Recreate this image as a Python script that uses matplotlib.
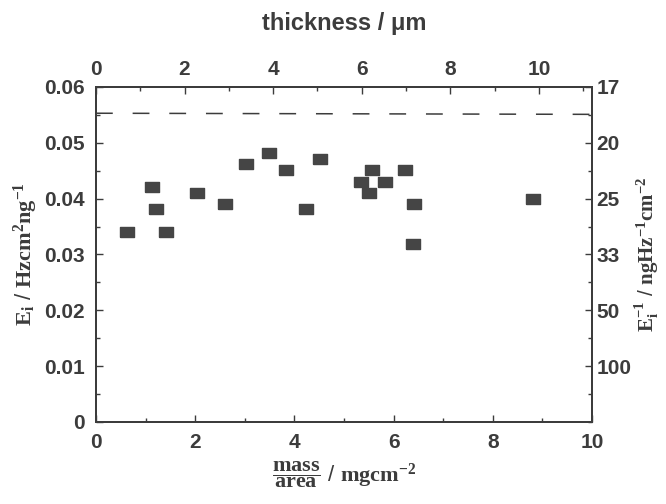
import numpy as np
import matplotlib
matplotlib.use("Agg")
import matplotlib.pyplot as plt
from matplotlib.ticker import MultipleLocator, FixedLocator

plt.rcParams["font.family"] = ["Liberation Sans", "DejaVu Sans"]
plt.rcParams["mathtext.fontset"] = "custom"
plt.rcParams["mathtext.rm"] = "Liberation Serif:bold"
plt.rcParams["mathtext.it"] = "Liberation Serif:italic:bold"
plt.rcParams["mathtext.bf"] = "Liberation Serif:bold"

INK = "#3c3c3c"

# data
mass_per_area = [0.62, 1.12, 1.22, 1.41, 2.03, 2.61, 3.02, 3.48, 3.84, 4.24,
                 4.52, 5.35, 5.50, 5.57, 5.83, 6.23, 6.42, 6.39, 8.81]
e_i = [0.0341, 0.0421, 0.0382, 0.0341, 0.0411, 0.0391, 0.0462, 0.0482, 0.0452, 0.0382,
       0.0471, 0.0430, 0.0411, 0.0451, 0.0430, 0.0451, 0.0390, 0.0319, 0.0399]

limit_x = [0, 10]
limit_y = [0.0553, 0.0551]

y_ticks = [0, 0.01, 0.02, 0.03, 0.04, 0.05, 0.06]
y_tick_labels = ["0", "0.01", "0.02", "0.03", "0.04", "0.05", "0.06"]
right_ticks = [0.01, 0.02, 0.03, 0.04, 0.05, 0.06]
right_tick_labels = ["100", "50", "33", "25", "20", "17"]
thickness_max = 11.2

fig = plt.figure(figsize=(6.66, 5.04), dpi=100)
ax = fig.add_axes([0.1441, 0.1627, 0.7448, 0.6647])

# rectangular marker, a bit wider than tall
rect = [(-1.3, -1), (1.3, -1), (1.3, 1), (-1.3, 1), (-1.3, -1)]
ax.plot(mass_per_area, e_i, linestyle="none", marker=rect, markersize=10,
        color="#454545", markeredgecolor="#454545")
ax.plot(limit_x, limit_y, color=INK, lw=1.1, linestyle=(0, (11, 13)))

ax.set_xlim(0, 10)
ax.set_ylim(0, 0.06)
ax.xaxis.set_major_locator(MultipleLocator(2))
ax.xaxis.set_minor_locator(MultipleLocator(1))
ax.yaxis.set_major_locator(FixedLocator(y_ticks))
ax.set_yticklabels(y_tick_labels)
ax.yaxis.set_minor_locator(MultipleLocator(0.005))

ax.tick_params(which="both", direction="in", color=INK, width=1.0)
ax.tick_params(which="major", length=5, pad=8, labelsize=15, labelcolor=INK)
ax.tick_params(which="minor", length=3)
for lbl in ax.get_xticklabels() + ax.get_yticklabels():
    lbl.set_fontweight("bold")
for sp in ax.spines.values():
    sp.set_color(INK)
    sp.set_linewidth(1.2)

# top axis: thickness
ax_top = ax.twiny()
ax_top.set_xlim(0, thickness_max)
ax_top.xaxis.set_major_locator(MultipleLocator(2))
ax_top.xaxis.set_minor_locator(MultipleLocator(1))
ax_top.tick_params(which="both", direction="in", color=INK, width=1.0)
ax_top.tick_params(which="major", length=5, pad=6, labelsize=15, labelcolor=INK)
ax_top.tick_params(which="minor", length=3)
for lbl in ax_top.get_xticklabels():
    lbl.set_fontweight("bold")
ax_top.set_xlabel("thickness / μm", fontsize=17, fontweight="bold", color=INK, labelpad=21)

# right axis: inverse
ax_right = ax.twinx()
ax_right.set_ylim(0, 0.06)
ax_right.yaxis.set_major_locator(FixedLocator(right_ticks))
ax_right.set_yticklabels(right_tick_labels)
ax_right.yaxis.set_minor_locator(MultipleLocator(0.005))
ax_right.tick_params(which="both", direction="in", color=INK, width=1.0)
ax_right.tick_params(which="major", length=5, pad=3, labelsize=15, labelcolor=INK)
ax_right.tick_params(which="minor", length=3)
for lbl in ax_right.get_yticklabels():
    lbl.set_fontweight("bold")

for a in (ax_top, ax_right):
    for sp in a.spines.values():
        sp.set_color(INK)
        sp.set_linewidth(1.2)

ax.set_ylabel(r"$\mathrm{E_i}$ / $\mathrm{Hzcm^2ng^{-1}}$", fontsize=16, color=INK, labelpad=3)
ax_right.set_ylabel(r"$\mathrm{E_i^{-1}}$ / $\mathrm{ngHz^{-1}cm^{-2}}$", fontsize=15, color=INK, labelpad=2)
ax.set_xlabel(r"$\dfrac{\mathrm{mass}}{\mathrm{area}}$ / $\mathrm{mgcm^{-2}}$", fontsize=16,
              color=INK, labelpad=5)

fig.savefig("out.png", dpi=100, facecolor="white")
